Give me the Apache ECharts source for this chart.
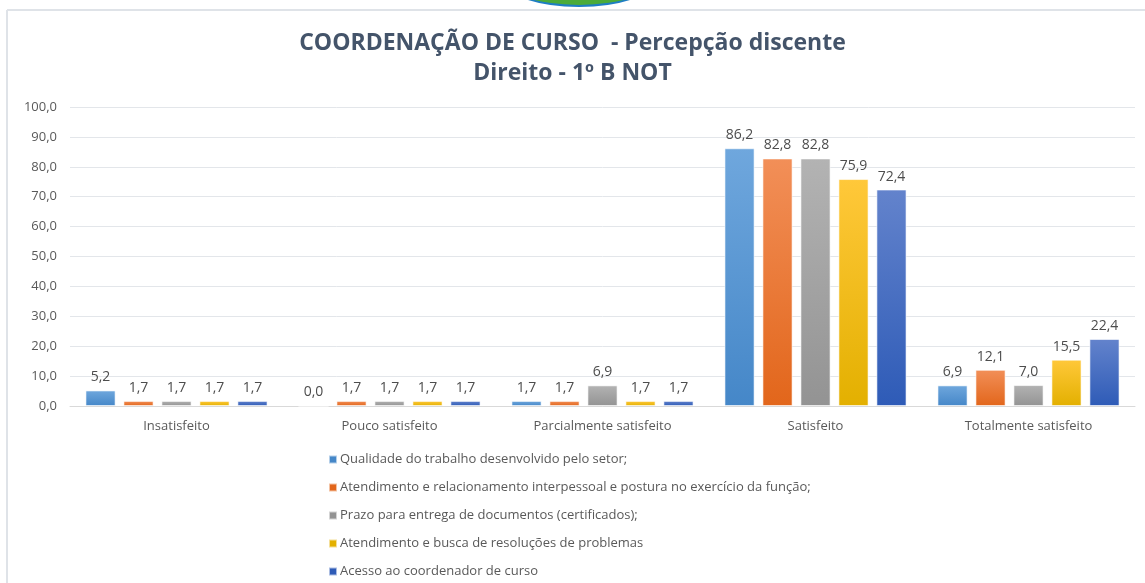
<!DOCTYPE html>
<html>
<head>
<meta charset="utf-8">
<script src="https://cdn.jsdelivr.net/npm/echarts@6/dist/echarts.min.js"></script>
<style>
  html, body { margin: 0; padding: 0; background: #fff; }
  #main { width: 1145px; height: 583px; }
</style>
</head>
<body>
<div id="main"></div>
<script>
// categorias e valores (%)
var categories = ['Insatisfeito', 'Pouco satisfeito', 'Parcialmente satisfeito', 'Satisfeito', 'Totalmente satisfeito'];
var seriesNames = [
    'Qualidade do trabalho desenvolvido pelo setor;',
    'Atendimento e relacionamento interpessoal e postura no exercício da função;',
    'Prazo para entrega de documentos (certificados);',
    'Atendimento e busca de resoluções de problemas',
    'Acesso ao coordenador de curso'
];
var qualidade = [5.2, 0.0, 1.7, 86.2, 6.9];
var atendimento = [1.7, 1.7, 1.7, 82.8, 12.1];
var prazo = [1.7, 1.7, 6.9, 82.8, 7.0];
var resolucoes = [1.7, 1.7, 1.7, 75.9, 15.5];
var acesso = [1.7, 1.7, 1.7, 72.4, 22.4];
var yTicks = [0, 10, 20, 30, 40, 50, 60, 70, 80, 90, 100];

// cores: topo claro -> base escura
var colors = [
    ['#6fa7dd', '#4587c8'],
    ['#f28f58', '#e2661b'],
    ['#b3b3b3', '#939393'],
    ['#ffc83a', '#e3b000'],
    ['#6383cc', '#2e5bb7']
];

function fmt(v) {
    return v.toFixed(1).replace('.', ',');
}

var allData = [qualidade, atendimento, prazo, resolucoes, acesso];

var series = allData.map(function (d, i) {
    return {
        name: seriesNames[i],
        type: 'bar',
        data: d,
        barGap: '26%',
        barCategoryGap: '14.5%',
        itemStyle: {
            color: new echarts.graphic.LinearGradient(0, 0, 0, 1, [
                { offset: 0, color: colors[i][0] },
                { offset: 1, color: colors[i][1] }
            ]),
            borderColor: 'rgba(255,255,255,0.6)',
            borderWidth: 1
        },
        label: {
            show: true,
            position: 'top',
            distance: 6,
            color: '#4d4d4d',
            fontSize: 14,
            fontFamily: 'Open Sans',
            formatter: function (p) { return fmt(p.value); }
        }
    };
});

var myChart = echarts.init(document.getElementById('main'));
myChart.setOption({
    animation: false,
    backgroundColor: '#ffffff',
    color: colors.map(function (c) { return c[1]; }),
    title: {
        text: 'COORDENAÇÃO DE CURSO  - Percepção discente\nDireito - 1º B NOT',
        left: 'center',
        top: 23,
        textStyle: {
            fontFamily: 'Open Sans',
            fontWeight: 'bold',
            fontSize: 23,
            color: '#44546a',
            lineHeight: 30
        }
    },
    graphic: [
        { type: 'circle', shape: { cx: 579, cy: -55, r: 75 }, scaleY: 0.35, originY: 0,
          style: { fill: '#1f7ec4' }, z: 10 },
        { type: 'circle', shape: { cx: 579, cy: -64, r: 78 }, scaleY: 0.35, originY: 0,
          style: { fill: '#4bab3a' }, z: 11 },
        { type: 'line', shape: { x1: 7, y1: 10, x2: 1145, y2: 10 },
          style: { stroke: '#dfe3e8', lineWidth: 2 } },
        { type: 'line', shape: { x1: 7, y1: 10, x2: 7, y2: 583 },
          style: { stroke: '#dfe3e8', lineWidth: 2 } }
    ],
    legend: {
        orient: 'vertical',
        left: 323,
        top: 448,
        height: 160,
        itemWidth: 8,
        itemHeight: 8,
        itemGap: 15,
        icon: 'rect',
        data: seriesNames.map(function (n, i) {
            return { name: n, itemStyle: { color: colors[i][1] } };
        }),
        textStyle: {
            color: '#595959',
            fontSize: 13,
            fontFamily: 'Open Sans',
            padding: [0, 0, 0, -2]
        }
    },
    grid: {
        left: 70,
        right: 10,
        top: 107,
        bottom: 177,
        containLabel: false
    },
    xAxis: {
        type: 'category',
        data: categories,
        axisLine: { lineStyle: { color: '#d9d9d9' } },
        axisTick: { show: false },
        axisLabel: {
            color: '#595959',
            fontSize: 13,
            fontFamily: 'Open Sans',
            margin: 14
        }
    },
    yAxis: {
        type: 'value',
        min: yTicks[0],
        max: yTicks[yTicks.length - 1],
        interval: 10,
        axisLine: { show: false },
        axisTick: { show: false },
        splitLine: { lineStyle: { color: '#e3e6ea' } },
        axisLabel: {
            color: '#595959',
            fontSize: 13,
            fontFamily: 'Open Sans',
            margin: 13,
            formatter: function (v) { return fmt(v); }
        }
    },
    series: series
});
</script>
</body>
</html>
